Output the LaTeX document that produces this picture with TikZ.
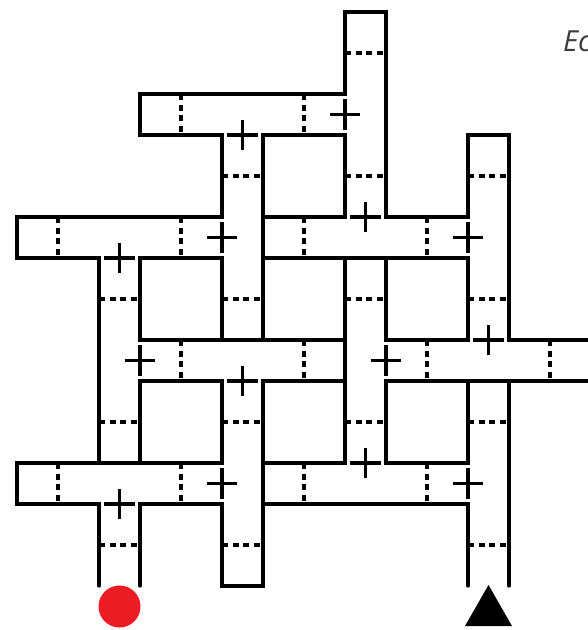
\documentclass[tikz,border=0pt]{standalone}
\usepackage{fontspec}
\newfontfamily\labelfont{Open Sans}
\definecolor{mazered}{RGB}{237,28,36}
\definecolor{textgray}{RGB}{60,60,60}
\begin{document}
\begin{tikzpicture}[x=1pt,y=-1pt,
  wall/.style={line width=3.3pt,line cap=round,line join=miter},
  gate/.style={line width=3.3pt,dash pattern=on 6pt off 4.5pt},
  crossmark/.style={line width=3.3pt}]
\useasboundingbox (0,0) rectangle (588,630);
\node[anchor=base west,inner sep=0pt,font=\labelfont\itshape\fontsize{29}{29}\selectfont,text=textgray] (title) at (563,51.7) {Ec};
\begin{scope}[shift={(17,12)},x=41pt,y=-41pt]
  % outer outline, upper and left
  \draw[wall] (2,14)--(2,12)--(0,12)--(0,11)--(2,11)--(2,6)--(0,6)--(0,5)--(5,5)--(5,3)--(3,3)--(3,2)--(8,2)--(8,0)--(9,0)--(9,5)--(11,5)--(11,3)--(12,3)--(12,8)--(14.5,8);
  % right lower outline
  \draw[wall] (14.5,9)--(11,9);
  \draw[wall] (12,9)--(12,14);
  % bottom outline
  \draw[wall] (11,14)--(11,12)--(6,12)--(6,14)--(5,14)--(5,12)--(3,12)--(3,14);
  % closed blocks
  \foreach \a/\b/\c/\d in {6/3/8/5,3/6/5/8,6/6/8/8,9/6/11/8,3/9/5/11,6/9/8/11,9/9/11/11}
    \draw[wall] (\a,\b) rectangle (\c,\d);
  % walls across crossings
  \draw[wall] (6,5)--(6,6);
  \draw[wall] (8,6)--(9,6);
  \draw[wall] (5,8)--(6,8);
  \draw[wall] (8,8)--(8,9);
  \draw[wall] (2,11)--(3,11);
  \draw[wall] (6,11)--(6,12);
  % dashed gates, vertical
  \foreach \i/\j in {4/2,7/2,1/5,4/5,7/5,10/5,4/8,7/8,10/8,13/8,1/11,4/11,7/11,10/11}
    \draw[gate] (\i,\j)--(\i,\j+1);
  % dashed gates, horizontal
  \foreach \i/\j in {8/1,8/4,8/7,8/10,5/4,5/7,5/10,5/13,2/7,2/10,2/13,11/4,11/7,11/10,11/13}
    \draw[gate] (\i,\j)--(\i+1,\j);
  % plus marks
  \foreach \i/\j in {5.5/3,8/2.5,5/5.5,2.5/6,8.5/5,11/5.5,3/8.5,5.5/9,9/8.5,11.5/8,5/11.5,2.5/12,8.5/11,11/11.5}
    \draw[crossmark] (\i,\j) ++(-15.3pt,0pt) -- ++(30.6pt,0pt)
                     (\i,\j) ++(0pt,-15.3pt) -- ++(0pt,30.6pt);
  % start and goal marks
  \fill[mazered] (2.5,14.5) circle (21pt);
  \fill[black] (11.5,14) ++(0pt,1pt) -- ++(-23.5pt,-41pt) -- ++(47pt,0pt) -- cycle;
\end{scope}
\end{tikzpicture}
\end{document}
